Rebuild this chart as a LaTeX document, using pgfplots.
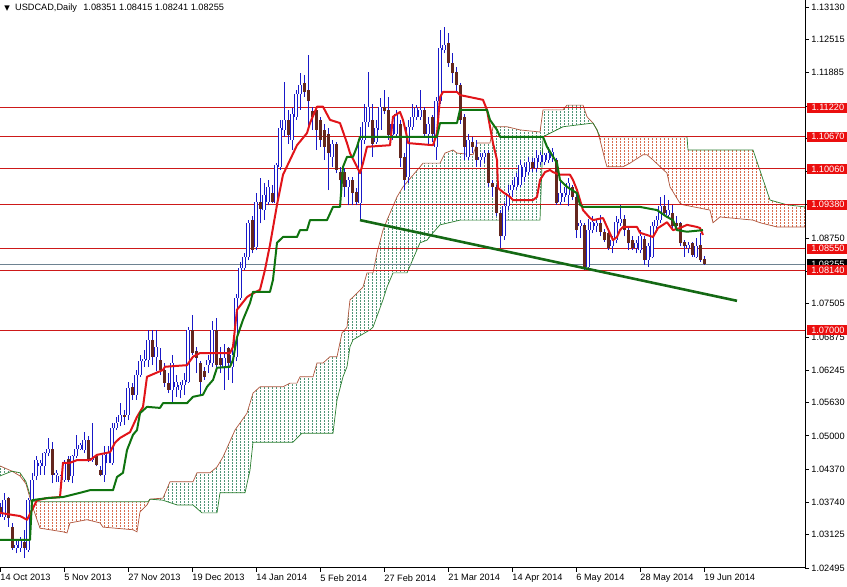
\documentclass[border=0pt]{standalone}
\usepackage{fontspec}
\setmainfont{Liberation Sans}
\newfontfamily\symfont{DejaVu Sans}
\usepackage{pgfplots}
\usepackage{pgfplotstable}
\pgfplotsset{compat=1.18}
\usepgfplotslibrary{fillbetween}
\usetikzlibrary{patterns}

\definecolor{cblue}{RGB}{25,25,200}
\definecolor{cbear}{RGB}{100,38,30}
\definecolor{tenkan}{RGB}{225,20,25}
\definecolor{kijun}{RGB}{15,115,15}
\definecolor{trend}{RGB}{20,105,20}
\definecolor{lvl}{RGB}{205,25,25}
\definecolor{lvlbox}{RGB}{235,15,15}
\definecolor{dotgreen}{RGB}{80,150,120}
\definecolor{dotbrown}{RGB}{215,110,80}
\definecolor{spanA}{RGB}{175,85,60}
\definecolor{spanB}{RGB}{40,125,45}
\definecolor{pricel}{RGB}{110,130,145}

\newcommand\mtfont{\fontsize{4.6}{5.5}\selectfont}

% dotted hatching of the cloud
\pgfdeclarepatternformonly{mtdots}{\pgfqpoint{-0.1pt}{-0.1pt}}{\pgfqpoint{2.1pt}{1.6pt}}{\pgfqpoint{2pt}{1.5pt}}{%
  \pgfpathrectangle{\pgfqpoint{0pt}{0pt}}{\pgfqpoint{0.45pt}{0.8pt}}\pgfusepath{fill}}

% daily bars, i = bar number from 14 Oct 2013
\pgfplotstableread{
i o h l c
0 1.0366 1.0372 1.0347 1.0353
1 1.0347 1.0391 1.0341 1.0378
2 1.0382 1.0385 1.0328 1.0344
3 1.0328 1.0334 1.0284 1.0287
4 1.0287 1.0303 1.0277 1.0293
5 1.0287 1.0309 1.0280 1.0303
6 1.0299 1.0322 1.0268 1.0287
7 1.0284 1.0382 1.0280 1.0378
8 1.0378 1.0429 1.0375 1.0416
9 1.0423 1.0461 1.0416 1.0454
10 1.0442 1.0454 1.0426 1.0448
11 1.0442 1.0470 1.0426 1.0467
12 1.0467 1.0495 1.0461 1.0476
13 1.0476 1.0489 1.0410 1.0426
14 1.0426 1.0435 1.0413 1.0429
15 1.0413 1.0426 1.0407 1.0423
16 1.0416 1.0454 1.0413 1.0451
17 1.0456 1.0461 1.0413 1.0416
18 1.0423 1.0464 1.0410 1.0461
19 1.0461 1.0502 1.0458 1.0476
20 1.0476 1.0486 1.0473 1.0483
21 1.0473 1.0508 1.0467 1.0492
22 1.0492 1.0499 1.0451 1.0454
23 1.0454 1.0524 1.0451 1.0458
24 1.0461 1.0464 1.0442 1.0445
25 1.0435 1.0442 1.0423 1.0426
26 1.0426 1.0480 1.0413 1.0464
27 1.0448 1.0480 1.0448 1.0470
28 1.0448 1.0524 1.0445 1.0514
29 1.0514 1.0536 1.0511 1.0524
30 1.0527 1.0562 1.0518 1.0540
31 1.0540 1.0549 1.0521 1.0536
32 1.0540 1.0603 1.0530 1.0590
33 1.0593 1.0600 1.0568 1.0578
34 1.0578 1.0625 1.0568 1.0615
35 1.0615 1.0653 1.0612 1.0641
36 1.0641 1.0663 1.0631 1.0645
37 1.0644 1.0701 1.0631 1.0682
38 1.0682 1.0701 1.0634 1.0650
39 1.0650 1.0701 1.0622 1.0669
40 1.0644 1.0666 1.0615 1.0625
41 1.0625 1.0638 1.0593 1.0600
42 1.0600 1.0619 1.0581 1.0587
43 1.0587 1.0653 1.0562 1.0638
44 1.0593 1.0615 1.0574 1.0603
45 1.0587 1.0603 1.0571 1.0596
46 1.0596 1.0619 1.0578 1.0606
47 1.0603 1.0707 1.0600 1.0701
48 1.0701 1.0729 1.0653 1.0657
49 1.0660 1.0669 1.0619 1.0647
50 1.0638 1.0641 1.0578 1.0603
51 1.0622 1.0631 1.0606 1.0612
52 1.0634 1.0653 1.0619 1.0644
53 1.0638 1.0717 1.0631 1.0701
54 1.0701 1.0723 1.0631 1.0634
55 1.0647 1.0669 1.0619 1.0634
56 1.0631 1.0675 1.0587 1.0647
57 1.0666 1.0669 1.0606 1.0638
58 1.0631 1.0675 1.0600 1.0653
59 1.0650 1.0768 1.0641 1.0761
60 1.0761 1.0830 1.0758 1.0818
61 1.0818 1.0846 1.0814 1.0839
62 1.0839 1.0909 1.0833 1.0903
63 1.0909 1.0916 1.0846 1.0852
64 1.0858 1.0960 1.0852 1.0944
65 1.0944 1.0988 1.0903 1.0931
66 1.0928 1.0979 1.0909 1.0956
67 1.0944 1.0985 1.0937 1.0972
68 1.0960 1.0975 1.0941 1.0944
69 1.0941 1.1017 1.0937 1.1013
70 1.1010 1.1099 1.1004 1.1083
71 1.1080 1.1171 1.1067 1.1099
72 1.1099 1.1118 1.1054 1.1070
73 1.1061 1.1121 1.1042 1.1111
74 1.1105 1.1156 1.1099 1.1149
75 1.1149 1.1187 1.1118 1.1165
76 1.1168 1.1184 1.1143 1.1152
77 1.1156 1.1222 1.1086 1.1134
78 1.1115 1.1124 1.1080 1.1105
79 1.1118 1.1124 1.1042 1.1080
80 1.1099 1.1105 1.1048 1.1061
81 1.1080 1.1092 1.1023 1.1048
82 1.1073 1.1083 1.0966 1.1036
83 1.1029 1.1061 1.1010 1.1054
84 1.1054 1.1057 1.0998 1.1004
85 1.1001 1.1010 1.0966 1.0985
86 1.1001 1.1007 1.0953 1.0972
87 1.0972 1.0991 1.0937 1.0985
88 1.0985 1.0991 1.0937 1.0960
89 1.0963 1.0969 1.0937 1.0944
90 1.0941 1.1086 1.0912 1.1061
91 1.1061 1.1130 1.1054 1.1095
92 1.1095 1.1190 1.1086 1.1124
93 1.1099 1.1130 1.1029 1.1054
94 1.1057 1.1099 1.1054 1.1083
95 1.1080 1.1140 1.1080 1.1124
96 1.1124 1.1156 1.1111 1.1115
97 1.1118 1.1143 1.1061 1.1070
98 1.1070 1.1105 1.1061 1.1092
99 1.1073 1.1118 1.1067 1.1111
100 1.1092 1.1099 1.1010 1.1026
101 1.1029 1.1036 1.0966 1.0985
102 1.0991 1.1099 1.0979 1.1086
103 1.1086 1.1130 1.1080 1.1105
104 1.1105 1.1127 1.1099 1.1121
105 1.1105 1.1156 1.1099 1.1118
106 1.1118 1.1124 1.1067 1.1073
107 1.1073 1.1105 1.1054 1.1092
108 1.1105 1.1108 1.1057 1.1073
109 1.1048 1.1143 1.1023 1.1134
110 1.1134 1.1269 1.1130 1.1235
111 1.1232 1.1276 1.1225 1.1241
112 1.1244 1.1263 1.1200 1.1206
113 1.1206 1.1225 1.1168 1.1187
114 1.1190 1.1200 1.1152 1.1165
115 1.1165 1.1168 1.1092 1.1099
116 1.1105 1.1111 1.1023 1.1048
117 1.1029 1.1073 1.1023 1.1061
118 1.1057 1.1067 1.1036 1.1048
119 1.1048 1.1061 1.1010 1.1023
120 1.1023 1.1036 1.1010 1.1029
121 1.1029 1.1042 1.1017 1.1036
122 1.1036 1.1042 1.0972 1.0979
123 1.0979 1.0985 1.0953 1.0972
124 1.0972 1.0975 1.0916 1.0922
125 1.0922 1.0928 1.0856 1.0878
126 1.0878 1.0941 1.0871 1.0935
127 1.0935 1.0975 1.0928 1.0960
128 1.0966 1.0985 1.0953 1.0975
129 1.0972 1.0998 1.0966 1.0991
130 1.0975 1.1023 1.0972 1.1013
131 1.0991 1.1017 1.0982 1.1010
132 1.1001 1.1029 1.0995 1.1020
133 1.1020 1.1026 1.1001 1.1007
134 1.1007 1.1042 1.1001 1.1026
135 1.1020 1.1039 1.1013 1.1032
136 1.1020 1.1036 1.1013 1.1032
137 1.1023 1.1048 1.1017 1.1036
138 1.1026 1.1045 1.1020 1.1039
139 1.1023 1.1026 1.0938 1.0941
140 1.0944 1.0985 1.0938 1.0960
141 1.0953 1.0972 1.0944 1.0960
142 1.0957 1.0988 1.0935 1.0979
143 1.0972 1.0975 1.0947 1.0953
144 1.0953 1.0960 1.0875 1.0890
145 1.0897 1.0909 1.0875 1.0903
146 1.0900 1.0903 1.0814 1.0820
147 1.0820 1.0912 1.0814 1.0890
148 1.0890 1.0916 1.0884 1.0906
149 1.0897 1.0909 1.0887 1.0903
150 1.0903 1.0919 1.0878 1.0887
151 1.0887 1.0893 1.0868 1.0871
152 1.0884 1.0890 1.0852 1.0856
153 1.0859 1.0878 1.0846 1.0871
154 1.0871 1.0916 1.0865 1.0906
155 1.0903 1.0938 1.0897 1.0912
156 1.0912 1.0919 1.0878 1.0890
157 1.0890 1.0897 1.0852 1.0865
158 1.0871 1.0878 1.0852 1.0856
159 1.0856 1.0871 1.0846 1.0865
160 1.0852 1.0890 1.0846 1.0878
161 1.0874 1.0878 1.0824 1.0833
162 1.0833 1.0865 1.0821 1.0859
163 1.0840 1.0906 1.0837 1.0897
164 1.0897 1.0916 1.0890 1.0909
165 1.0909 1.0953 1.0903 1.0935
166 1.0935 1.0957 1.0916 1.0922
167 1.0919 1.0947 1.0913 1.0928
168 1.0922 1.0938 1.0894 1.0897
169 1.0903 1.0916 1.0890 1.0897
170 1.0903 1.0906 1.0859 1.0865
171 1.0868 1.0871 1.0840 1.0859
172 1.0856 1.0868 1.0846 1.0862
173 1.0865 1.0868 1.0840 1.0843
174 1.0840 1.0875 1.0837 1.0859
175 1.0862 1.0884 1.0830 1.0833
176 1.08351 1.08415 1.08241 1.08255
}\candles

\begin{document}
\begin{tikzpicture}
\begin{axis}[
    at={(0,9.5pt)}, anchor=south west,
    scale only axis,
    width=402.5pt, height=284pt,
    xmin=0, xmax=201.25,
    ymin=1.02495, ymax=1.13263,
    clip=false,
    axis x line*=bottom,
    axis y line*=right,
    axis line style={black, line width=0.5pt},
    tick style={black, line width=0.4pt},
    major tick length=2pt,
    tick align=outside,
    xtick={0,16,32,48,64,80,96,112,128,144,160,176},
    xticklabels={14 Oct 2013, 5 Nov 2013, 27 Nov 2013, 19 Dec 2013, 14 Jan 2014, 5 Feb 2014, 27 Feb 2014, 21 Mar 2014, 14 Apr 2014, 6 May 2014, 28 May 2014, 19 Jun 2014},
    xticklabel style={anchor=north west, inner xsep=0pt, inner ysep=1pt, font=\mtfont},
    ytick={1.13130,1.12515,1.11885,1.11255,1.10630,1.10005,1.09380,1.08750,1.08125,1.07505,1.06875,1.06245,1.05630,1.05000,1.04370,1.03740,1.03125,1.02495},
    yticklabels={1.13130,1.12515,1.11885,{},{},{},{},1.08750,{},1.07505,1.06875,1.06245,1.05630,1.05000,1.04370,1.03740,1.03125,1.02495},
    yticklabel style={anchor=west, inner xsep=1pt, font=\mtfont},
]

% ---- Ichimoku cloud ----
\addplot[name path=A0, spanA, line width=0.35pt, forget plot] coordinates {(0,1.0443) (3,1.0433)};
\addplot[name path=B0, spanB, line width=0.35pt, forget plot] coordinates {(0,1.0424) (3,1.0433)};
\addplot[pattern=mtdots, pattern color=dotgreen, draw=none, forget plot] fill between[of=A0 and B0];

\addplot[name path=A1, spanA, line width=0.35pt, forget plot] coordinates {
 (3,1.0433) (5,1.0424) (6.5,1.0409) (8,1.0369) (9.25,1.0341) (10,1.0325) (15.75,1.0318)
 (16.75,1.0316) (17.5,1.0335) (21.75,1.0341) (25,1.0335) (25.75,1.0327) (33.25,1.0322)
 (34.25,1.0318) (35,1.0356) (36.75,1.0369) (37.5,1.0380)};
\addplot[name path=B1, spanB, line width=0.35pt, forget plot] coordinates {
 (3,1.0433) (5,1.0430) (6.5,1.0413) (7.5,1.0388) (8.25,1.0375) (37,1.0375) (37.5,1.0380)};
\addplot[pattern=mtdots, pattern color=dotbrown, draw=none, forget plot] fill between[of=A1 and B1];

\addplot[name path=A2, spanA, line width=0.35pt, forget plot] coordinates {
 (37.5,1.0380) (40.75,1.0382) (42.5,1.0413) (48.25,1.0413) (49.25,1.0430) (52.5,1.0430)
 (54.25,1.0441) (55.75,1.0460) (58.75,1.0511) (61.75,1.0543) (63.25,1.0581) (65,1.0593)
 (70.75,1.0593) (72.5,1.0600) (74.25,1.0600) (75,1.0612) (78.25,1.0612) (79.25,1.0638)
 (80.75,1.0638) (82.5,1.0650) (84.25,1.0650) (85.5,1.0695) (86.75,1.0706) (87.5,1.0758)
 (88.25,1.0763) (90.75,1.0782) (91.75,1.0809) (93.25,1.0809) (94.25,1.0847) (95.75,1.0890)
 (96.75,1.0909) (99.25,1.0953) (100.75,1.0972) (105,1.1010) (105.75,1.1017) (110,1.1017)
 (111.25,1.1036) (113.25,1.1042) (114.25,1.1036) (118.25,1.1033) (119.25,1.1055) (122.5,1.1055)
 (123.25,1.1086) (126.75,1.1086) (130,1.1080) (135,1.1076) (135.75,1.1118) (140.75,1.1118)
 (141.75,1.1127) (145.75,1.1127) (146.75,1.1105) (148.25,1.1093) (149.25,1.1080)};
\addplot[name path=B2, spanB, line width=0.35pt, forget plot] coordinates {
 (37.5,1.0380) (40.75,1.0378) (44.25,1.0369) (48.25,1.0369) (50.5,1.0354) (54.25,1.0354)
 (55,1.0392) (61.25,1.0392) (62.5,1.0435) (63.25,1.0488) (73.25,1.0488) (75.5,1.0505)
 (83.25,1.0505) (84.25,1.0568) (85.75,1.0612) (86.75,1.0631) (87.5,1.0669) (88.25,1.0682)
 (92.5,1.0701) (93.25,1.0706) (95.75,1.0758) (96.75,1.0782) (98.25,1.0809) (101.75,1.0809)
 (105,1.0866) (106.75,1.0871) (108.25,1.0885) (110,1.0900) (115,1.0909) (135,1.0909)
 (135.75,1.1067) (140.75,1.1086) (148.25,1.1093) (149.25,1.1080)};
\addplot[pattern=mtdots, pattern color=dotgreen, draw=none, forget plot] fill between[of=A2 and B2];

\addplot[name path=A3, spanA, line width=0.35pt, forget plot] coordinates {
 (149.25,1.1080) (150,1.1061) (151.25,1.1023) (151.75,1.1010) (155.75,1.1010) (157.5,1.1017)
 (160.75,1.1033) (161.75,1.1033) (163.25,1.1023) (166.75,1.0998) (167.5,1.0972) (170,1.0941)
 (170.75,1.0938) (177.5,1.0928) (178.25,1.0904) (180,1.0915) (188.25,1.0909) (190,1.0904)
 (194.25,1.0896) (201.25,1.0896)};
\addplot[name path=B3, spanB, line width=0.35pt, forget plot] coordinates {
 (149.25,1.1080) (150,1.1067) (171.75,1.1067) (172,1.1042) (188.25,1.1042) (192.5,1.0947)
 (196.75,1.0938) (201.25,1.0934)};
\addplot[pattern=mtdots, pattern color=dotbrown, draw=none, forget plot] fill between[of=A3 and B3];

% ---- levels ----
\addplot[lvl, line width=0.5pt, forget plot] coordinates {(0,1.11220) (201.25,1.11220)};
\addplot[lvl, line width=0.5pt, forget plot] coordinates {(0,1.10670) (201.25,1.10670)};
\addplot[lvl, line width=0.5pt, forget plot] coordinates {(0,1.10060) (201.25,1.10060)};
\addplot[lvl, line width=0.5pt, forget plot] coordinates {(0,1.09380) (201.25,1.09380)};
\addplot[lvl, line width=0.5pt, forget plot] coordinates {(0,1.08550) (201.25,1.08550)};
\addplot[lvl, line width=0.5pt, forget plot] coordinates {(0,1.08140) (201.25,1.08140)};
\addplot[lvl, line width=0.5pt, forget plot] coordinates {(0,1.07000) (201.25,1.07000)};
\addplot[pricel, line width=0.5pt, forget plot] coordinates {(0,1.08255) (201.25,1.08255)};

% ---- candles ----
% wicks
\addplot[draw=none, mark=none, forget plot,
    error bars/.cd, y dir=plus, y explicit, error mark=none,
    error bar style={draw=cblue, line width=0.5pt, solid}]
  table[x=i, y=l, y error plus expr={\thisrow{h}-\thisrow{l}}] {\candles};
% rising bodies: blue outline, white inside
\addplot[draw=none, mark=none, forget plot,
    error bars/.cd, y dir=plus, y explicit, error mark=none,
    error bar style={draw=cblue, line width=1.6pt, solid}]
  table[x expr={\thisrow{c}>=\thisrow{o} ? \thisrow{i} : nan}, y=o,
        y error plus expr={max(\thisrow{c}-\thisrow{o},0.00012)}] {\candles};
\addplot[draw=none, mark=none, forget plot,
    error bars/.cd, y dir=plus, y explicit, error mark=none,
    error bar style={draw=white, line width=0.6pt, solid}]
  table[x expr={\thisrow{c}>=\thisrow{o} ? \thisrow{i} : nan}, y=o,
        y error plus expr={max(\thisrow{c}-\thisrow{o},0.00012)}] {\candles};
% falling bodies: dark brown
\addplot[draw=none, mark=none, forget plot,
    error bars/.cd, y dir=plus, y explicit, error mark=none,
    error bar style={draw=cbear, line width=1.5pt, solid}]
  table[x expr={\thisrow{c}<\thisrow{o} ? \thisrow{i} : nan}, y=c,
        y error plus expr={max(\thisrow{o}-\thisrow{c},0.00012)}] {\candles};

% ---- tenkan-sen ----
\addplot[tenkan, line width=1pt, line join=round, forget plot] coordinates {
 (0,1.0354) (3.25,1.0350) (5,1.0348) (6.75,1.0341) (8.25,1.0363) (9.25,1.0378) (11.75,1.0382)
 (15,1.0384) (15.75,1.0449) (17.5,1.0449) (19.25,1.0454) (22.5,1.0454) (24.25,1.0464)
 (27.5,1.0469) (28.75,1.0487) (30,1.0496) (32.5,1.0507) (34.25,1.0536) (35.75,1.0555)
 (36.75,1.0612) (40.75,1.0625) (41.25,1.0631) (46.75,1.0634) (48.25,1.0650) (50,1.0657)
 (57.5,1.0657) (58.25,1.0669) (59.25,1.0739) (61.75,1.0763) (62.5,1.0767) (65,1.0777)
 (66.25,1.0815) (67.5,1.0862) (69.25,1.0938) (70.75,1.0995) (72.5,1.1023) (74.25,1.1051)
 (76.75,1.1074) (77.5,1.1093) (79.25,1.1124) (80.75,1.1124) (82.5,1.1099) (85,1.1093)
 (86.75,1.1055) (87.5,1.1036) (89.25,1.1010) (90,1.0998) (90.75,1.1017) (91.75,1.1048)
 (97.5,1.1051) (98.25,1.1105) (100,1.1114) (100.75,1.1099) (101.75,1.1067) (102,1.1055)
 (108.25,1.1051) (109.25,1.1074) (110,1.1142) (110.75,1.1152) (114.25,1.1152) (115,1.1146)
 (118.25,1.1141) (120.75,1.1137) (121.75,1.1118) (122.5,1.1086) (123.25,1.1055) (124.25,1.1023)
 (124.5,1.0970) (125.75,1.0962) (127.5,1.0953) (128.25,1.0947) (133.25,1.0947) (134.25,1.0953)
 (135,1.0985) (136.25,1.1000) (137.5,1.1004) (138.25,1.1000) (140,1.0995) (142.5,1.0995)
 (143.25,1.0985) (144.25,1.0966) (145.75,1.0928) (147.5,1.0913) (148.25,1.0909) (150.75,1.0913)
 (151.75,1.0896) (153.25,1.0871) (154.25,1.0877) (155,1.0890) (155.75,1.0896) (159.25,1.0896)
 (160,1.0885) (163.25,1.0877) (164.5,1.0894) (166.75,1.0905) (168.25,1.0890) (170,1.0894)
 (171.75,1.0900) (174.25,1.0896) (175,1.0894) (175.75,1.0881)};

% ---- kijun-sen ----
\addplot[kijun, line width=1pt, line join=round, forget plot] coordinates {
 (0,1.0303) (7.5,1.0303) (8,1.0378) (11.75,1.0382) (15.75,1.0384) (20,1.0392) (22.5,1.0397)
 (28.25,1.0397) (29.25,1.0422) (30.75,1.0430) (31.75,1.0473) (33.25,1.0502) (34.25,1.0511)
 (35,1.0543) (36.75,1.0555) (40,1.0553) (40.75,1.0562) (46.75,1.0562) (48.25,1.0574)
 (50.75,1.0578) (51.75,1.0593) (53.25,1.0606) (54.25,1.0629) (57.5,1.0631) (58.25,1.0644)
 (59.25,1.0687) (60.75,1.0720) (62.5,1.0752) (63.25,1.0773) (67.5,1.0773) (68.25,1.0796)
 (69.25,1.0866) (70.75,1.0877) (74.25,1.0877) (75,1.0890) (76.75,1.0890) (77.5,1.0909)
 (81.75,1.0909) (83.25,1.0934) (85,1.0934) (85.75,1.1010) (86.75,1.1029) (88.25,1.1029)
 (89.25,1.1048) (90,1.1067) (109.25,1.1067) (110,1.1093) (114.25,1.1093) (115,1.1118)
 (121.75,1.1118) (122.5,1.1099) (124.25,1.1080) (125,1.1067) (135.75,1.1067) (136.75,1.1048)
 (139.25,1.1017) (140,1.0985) (141.75,1.0972) (144.25,1.0960) (145,1.0938) (145.75,1.0934)
 (160,1.0934) (164.25,1.0928) (166.75,1.0915) (168.25,1.0909) (169.25,1.0890) (171.75,1.0887)
 (175.75,1.0890)};

% ---- trend line ----
\addplot[trend, line width=1.3pt, forget plot] coordinates {(90,1.0909) (184.25,1.0756)};

% ---- price boxes on the scale ----
\tikzset{lbox/.style={fill=lvlbox, text=white, anchor=west, xshift=1pt, minimum width=20.5pt,
   minimum height=5pt, inner sep=0pt, font=\mtfont}}
\node[lbox, fill=black] at (axis cs:201.25,1.08255) {1.08255};
\node[lbox] at (axis cs:201.25,1.11220) {1.11220};
\node[lbox] at (axis cs:201.25,1.10670) {1.10670};
\node[lbox] at (axis cs:201.25,1.10060) {1.10060};
\node[lbox] at (axis cs:201.25,1.09380) {1.09380};
\node[lbox] at (axis cs:201.25,1.08550) {1.08550};
\node[lbox] at (axis cs:201.25,1.08140) {1.08140};
\node[lbox] at (axis cs:201.25,1.07000) {1.07000};

% ---- header ----
\node[anchor=west, inner sep=0pt, font=\mtfont] at (rel axis cs:0,1) [xshift=2pt, yshift=-4.2pt]
  {{\symfont\fontsize{3.6}{4}\selectfont ▼}\hspace{2.6pt}USDCAD,Daily\hspace{3.2pt}1.08351 1.08415 1.08241 1.08255};
\end{axis}
\pgfresetboundingbox
\path[use as bounding box] (0,0) rectangle (423.5pt,293.5pt);
\end{tikzpicture}
\end{document}
